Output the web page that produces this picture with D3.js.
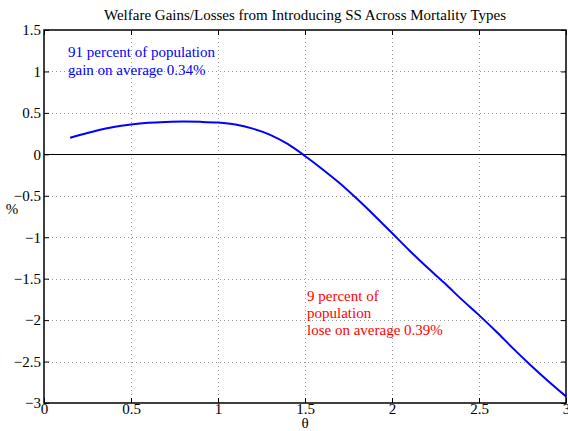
<!DOCTYPE html>
<html>
<head>
<meta charset="utf-8">
<script src="https://cdn.jsdelivr.net/npm/d3@7"></script>
<style>
  html, body { margin: 0; padding: 0; background: #fff; }
  svg { display: block; }
  svg text { font-family: "Liberation Serif", "Times New Roman", "DejaVu Serif", serif; font-size: 15px; }
</style>
</head>
<body>
<svg id="chart" width="568" height="431"></svg>
<script>
// Mortality type (theta) and welfare change in percent
const theta = [0.15, 0.2, 0.3, 0.4, 0.5, 0.6, 0.7, 0.8, 0.9, 1.0, 1.1, 1.2, 1.3, 1.4, 1.5,
               1.6, 1.7, 1.8, 1.9, 2.0, 2.1, 2.2, 2.3, 2.4, 2.5, 2.6, 2.7, 2.8, 2.9, 3.0];
const welfare = [0.20, 0.23, 0.285, 0.33, 0.36, 0.38, 0.39, 0.395, 0.392, 0.383, 0.36, 0.31, 0.235, 0.125, -0.02,
                 -0.18, -0.35, -0.54, -0.74, -0.95, -1.16, -1.36, -1.55, -1.75, -1.94, -2.14, -2.35, -2.55, -2.74, -2.92];
const xTicks = [0, 0.5, 1, 1.5, 2, 2.5, 3];
const yTicks = [1.5, 1, 0.5, 0, -0.5, -1, -1.5, -2, -2.5, -3];
const titleText = "Welfare Gains/Losses from Introducing SS Across Mortality Types";
const gainNote = ["91 percent of population", "gain on average 0.34%"];
const loseNote = ["9 percent of", "population", "lose on average 0.39%"];

const svg = d3.select("#chart");
const plotL = 44, plotR = 566, plotT = 30, plotB = 403;

const x = d3.scaleLinear().domain([0, 3]).range([plotL, plotR]);
const y = d3.scaleLinear().domain([-3, 1.5]).range([plotB, plotT]);

const fmt = v => (v < 0 ? "\u2212" : "") + String(Math.abs(v));

// dotted grid
const grid = svg.append("g").attr("stroke", "#9a9a9a").attr("stroke-width", 1)
  .attr("stroke-dasharray", "1,3");
grid.selectAll(".gx").data(xTicks.slice(1, -1)).join("line")
  .attr("x1", d => Math.round(x(d)) + 0.5).attr("x2", d => Math.round(x(d)) + 0.5)
  .attr("y1", plotT).attr("y2", plotB);
grid.selectAll(".gy").data(yTicks.slice(1, -1)).join("line")
  .attr("y1", d => Math.round(y(d)) + 0.5).attr("y2", d => Math.round(y(d)) + 0.5)
  .attr("x1", plotL).attr("x2", plotR);

// zero reference line
svg.append("line")
  .attr("x1", plotL).attr("x2", plotR)
  .attr("y1", Math.round(y(0)) + 0.5).attr("y2", Math.round(y(0)) + 0.5)
  .attr("stroke", "#000").attr("stroke-width", 1);

// welfare curve
const line = d3.line().x((d, i) => x(theta[i])).y(d => y(d)).curve(d3.curveMonotoneX);
svg.append("path").datum(welfare)
  .attr("d", line).attr("fill", "none")
  .attr("stroke", "#0000ff").attr("stroke-width", 2);

// axes with inward ticks on all four sides
const tl = 5;
const axB = d3.axisBottom(x).tickValues(xTicks).tickSize(-tl).tickPadding(0).tickFormat(fmt);
const axT = d3.axisTop(x).tickValues(xTicks).tickSize(-tl).tickFormat("");
const axL = d3.axisLeft(y).tickValues(yTicks).tickSize(-tl).tickPadding(3).tickFormat(fmt);
const axR = d3.axisRight(y).tickValues(yTicks).tickSize(-tl).tickFormat("");

function style(g) {
  g.select(".domain").remove();
  g.selectAll("line").attr("stroke", "#000");
  g.selectAll("text").attr("fill", "#000");
}
svg.append("g").attr("transform", `translate(0,${plotB})`).call(axB).call(style);
svg.append("g").attr("transform", `translate(0,${plotT})`).call(axT).call(style);
svg.append("g").attr("transform", `translate(${plotL},0)`).call(axL).call(style);
svg.append("g").attr("transform", `translate(${plotR},0)`).call(axR).call(style);

// axes box
svg.append("rect").attr("x", plotL).attr("y", plotT)
  .attr("width", plotR - plotL).attr("height", plotB - plotT)
  .attr("fill", "none").attr("stroke", "#000").attr("stroke-width", 1.5);

// title and axis labels
svg.append("text").attr("x", (plotL + plotR) / 2).attr("y", 20)
  .attr("text-anchor", "middle").text(titleText);
svg.append("text").attr("x", (plotL + plotR) / 2).attr("y", 428)
  .attr("text-anchor", "middle").text("\u03b8");
svg.append("text").attr("x", 12).attr("y", 214)
  .attr("text-anchor", "middle").text("%");

// annotations
svg.append("g").selectAll("text").data(gainNote).join("text")
  .attr("x", 68).attr("y", (d, i) => 57 + i * 18)
  .attr("fill", "#0000ff").text(d => d);
svg.append("g").selectAll("text").data(loseNote).join("text")
  .attr("x", 307).attr("y", (d, i) => 301 + i * 17)
  .attr("fill", "#ff0000").text(d => d);
</script>
</body>
</html>
